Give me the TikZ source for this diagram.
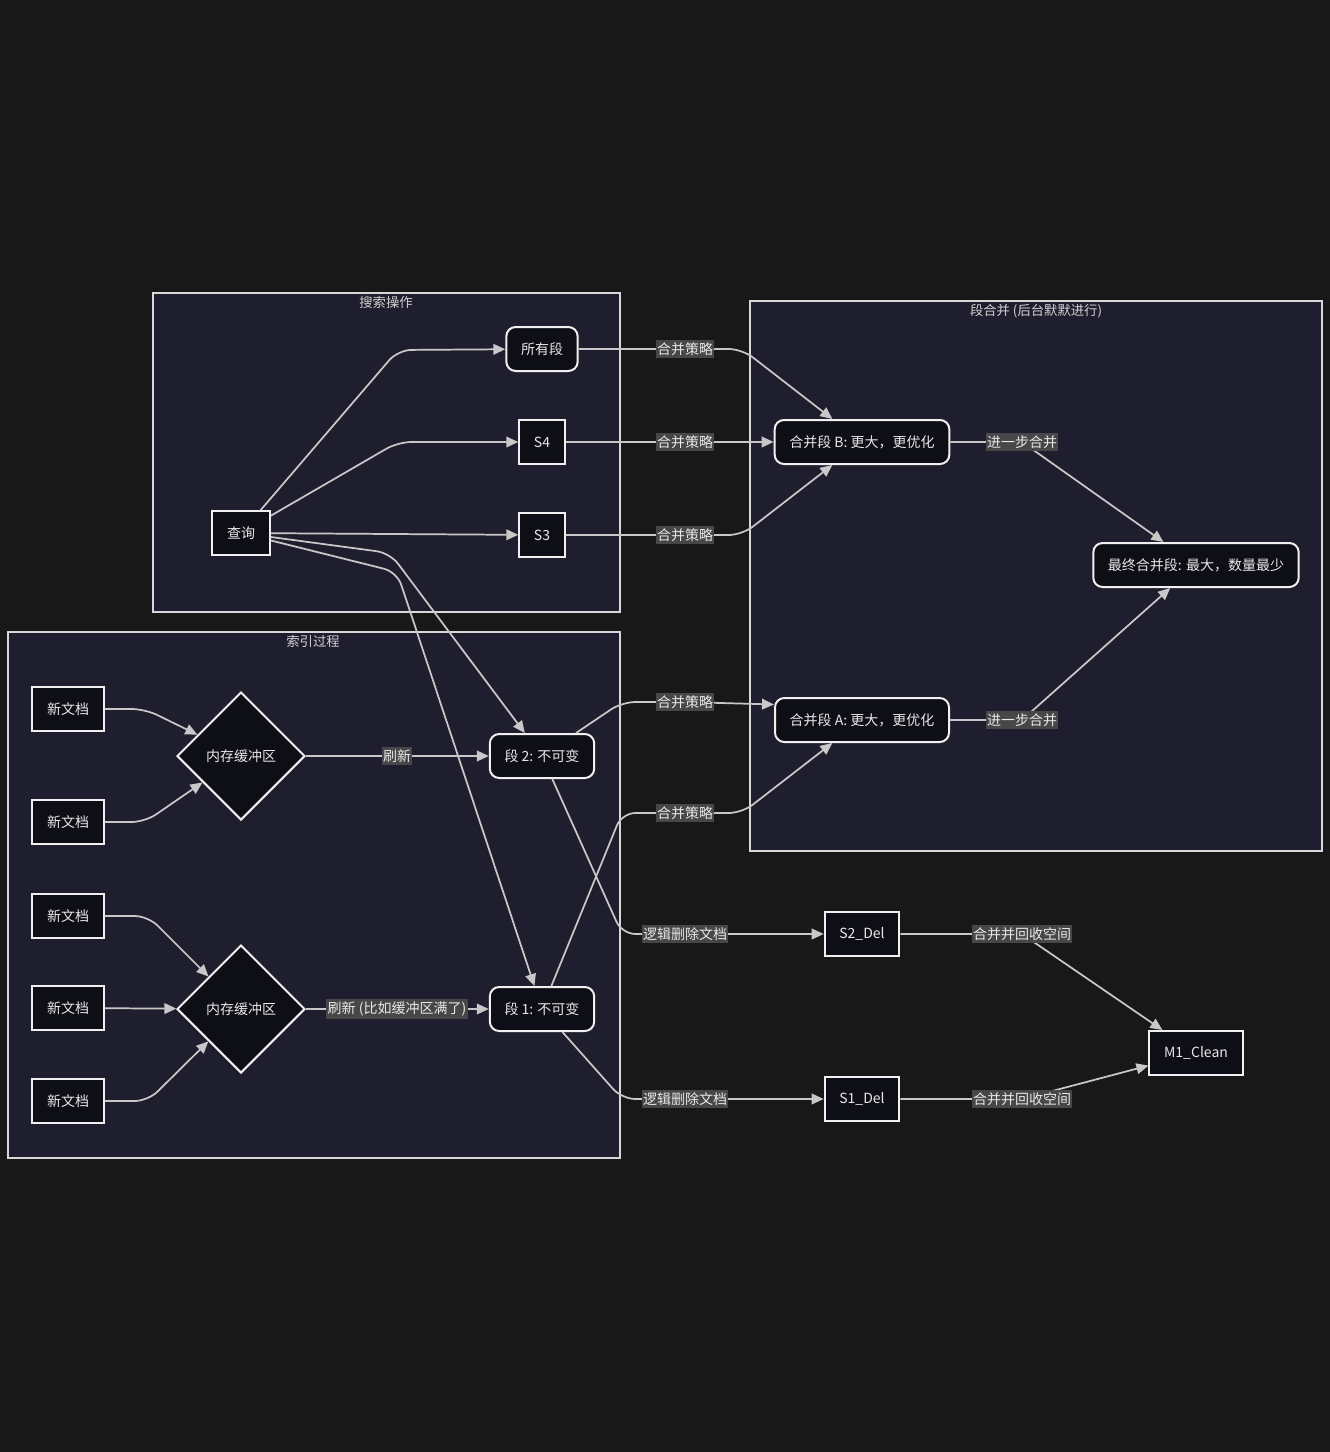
\documentclass[tikz,border=0pt]{standalone}
\usepackage{fontspec}
\setmainfont{Noto Sans CJK SC}
\usetikzlibrary{arrows.meta, shapes.geometric}
\definecolor{bgcol}{HTML}{181818}
\definecolor{clusterfill}{HTML}{1E1E2E}
\definecolor{clusterline}{HTML}{D8D8D8}
\definecolor{nodefill}{HTML}{0E0E16}
\definecolor{nodeline}{HTML}{F0F0F0}
\definecolor{edgecol}{HTML}{C8C8C8}
\definecolor{lblfill}{HTML}{474747}
\definecolor{txtcol}{HTML}{E8E8E8}
\tikzset{
    every node/.style={text=txtcol, font=\fontsize{10.5}{12}\selectfont},
    plainbox/.style={draw=nodeline, fill=nodefill, line width=1.5pt,
        minimum height=33pt, inner xsep=11pt},
    roundbox/.style={plainbox, rounded corners=7pt},
    buffer/.style={diamond, draw=nodeline, fill=nodefill, line width=1.5pt,
        minimum size=96pt, inner sep=0pt},
    cluster/.style={draw=clusterline, fill=clusterfill, line width=1.1pt},
    clustertitle/.style={font=\fontsize{10}{12}\selectfont, text=txtcol!90!black},
    flow/.style={draw=edgecol, line width=1.3pt, rounded corners=10pt,
        -{Triangle[length=9pt, width=8pt]}},
    lbl/.style={fill=lblfill, sharp corners, inner xsep=1pt, inner ysep=2pt,
        font=\fontsize{10.5}{12}\selectfont},
}

\begin{document}
\begin{tikzpicture}[x=0.75pt, y=-0.75pt]
    \fill[bgcol] (0,0) rectangle (1330,1452); % Background
    \useasboundingbox (0,0) rectangle (1330,1452);

    % Groups
    \draw[cluster] (153,293) rectangle (620,612);
    \node[clustertitle] (searchtitle) at (386,302) {搜索操作};
    \draw[cluster] (8,632) rectangle (620,1158);
    \node[clustertitle] (indextitle) at (313,641) {索引过程};
    \draw[cluster] (750,301) rectangle (1322,851);
    \node[clustertitle] (mergetitle) at (1036,311) {段合并 (后台默默进行)};

    % Search
    \node[plainbox] (query) at (241,533) {查询};
    \node[roundbox] (allseg) at (542,349) {所有段};
    \node[plainbox] (s4) at (542,442) {S4};
    \node[plainbox] (s3) at (542,535) {S3};

    % Indexing
    \foreach \name/\y in {doc1/709, doc2/822, doc3/916, doc4/1008, doc5/1101}{
        \node[plainbox] (\name) at (68,\y) {新文档};
    }
    \node[buffer] (membuf2) at (241,756) {内存缓冲区};
    \node[buffer] (membuf1) at (241,1009) {内存缓冲区};
    \node[roundbox] (seg2) at (542,756) {段 2: 不可变};
    \node[roundbox] (seg1) at (542,1009) {段 1: 不可变};

    % Merging
    \node[roundbox] (mergeb) at (862,442) {合并段 B: 更大，更优化};
    \node[roundbox] (mergea) at (862,720) {合并段 A: 更大，更优化};
    \node[roundbox] (final) at (1196,565) {最终合并段: 最大，数量最少};
    \node[plainbox] (s2del) at (862,934) {S2\_Del};
    \node[plainbox] (s1del) at (862,1099) {S1\_Del};
    \node[plainbox] (mclean) at (1196,1053) {M1\_Clean};

    % Query fans out
    \draw[flow] (query) -- (398,350) -- (allseg);
    \draw[flow] (query) -- (398,442) -- (s4);
    \draw[flow] (query) -- (s3);
    \draw[flow] (query) -- (390,553) -- (seg2);
    \draw[flow] (query) -- (397,572) -- (seg1);

    % Documents into buffers
    \draw[flow] (doc1) -- (145,709) -- (membuf2);
    \draw[flow] (doc2) -- (145,822) -- (membuf2);
    \draw[flow] (doc3) -- (148,916) -- (membuf1);
    \draw[flow] (doc4) -- (membuf1);
    \draw[flow] (doc5) -- (148,1101) -- (membuf1);

    % Refresh
    \draw[flow] (membuf2) -- (397,756) node[lbl] (lflush2) {刷新} -- (seg2);
    \draw[flow] (membuf1) -- (397,1009) node[lbl] (lflush1)
        {刷新 (比如缓冲区满了)} -- (seg1);

    % Merge policy
    \draw[flow] (allseg) -- (685,349) node[lbl] (lpol1) {合并策略}
        -- (742,349) -- (mergeb);
    \draw[flow] (s4) -- (685,442) node[lbl] (lpol2) {合并策略} -- (mergeb);
    \draw[flow] (s3) -- (685,535) node[lbl] (lpol3) {合并策略}
        -- (742,535) -- (mergeb);
    \draw[flow] (seg2) -- (622,702) -- (685,702) node[lbl] (lpol4) {合并策略}
        -- (mergea.170);
    \draw[flow] (seg1) -- (622,813) -- (685,813) node[lbl] (lpol5) {合并策略}
        -- (742,813) -- (mergea);

    % Deletes
    \draw[flow] (seg2) -- (622,934) -- (685,934) node[lbl] (ldel2)
        {逻辑删除文档} -- (s2del);
    \draw[flow] (seg1) -- (622,1099) -- (685,1099) node[lbl] (ldel1)
        {逻辑删除文档} -- (s1del);

    % Further merging
    \draw[flow] (mergeb) -- (1022,442) node[lbl] (lmore1) {进一步合并} -- (final);
    \draw[flow] (mergea) -- (1022,720) node[lbl] (lmore2) {进一步合并} -- (final);
    \draw[flow] (s2del) -- (1022,934) node[lbl] (lfree2) {合并并回收空间} -- (mclean);
    \draw[flow] (s1del) -- (1022,1099) node[lbl] (lfree1) {合并并回收空间} -- (mclean);
\end{tikzpicture}
\end{document}
